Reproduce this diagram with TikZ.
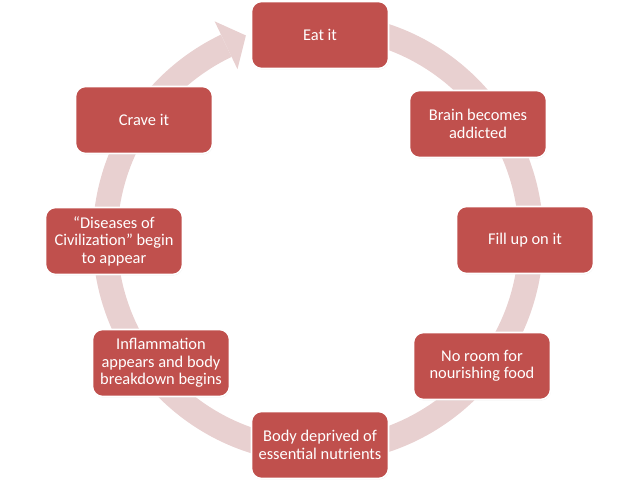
\documentclass[tikz,border=0pt]{standalone}
\usepackage{fontspec}
\setmainfont{Carlito}
\usepackage{xcolor}
\usetikzlibrary{calc,shadows}
\definecolor{boxred}{RGB}{192,80,77}
\definecolor{ringpink}{RGB}{232,208,208}
\tikzset{
  stagebox/.style={rectangle, rounded corners=0.3cm, fill=boxred, draw=white, line width=1.4pt,
    minimum width=4.11cm, minimum height=2.01cm, align=center, text=white,
    font=\fontsize{14}{15}\selectfont,
    drop shadow={opacity=0.2, shadow xshift=0.4pt, shadow yshift=-0.8pt}},
  ring/.style={ringpink, line width=0.74cm}
}
\begin{document}
\begin{tikzpicture}[x=0.03cm,y=0.03cm]
\useasboundingbox (0,0) rectangle (640,480);
\coordinate (ctr) at (318,242);
%\draw[red] (ctr) circle[radius=6.39cm];
% the circular arrow behind the stages
\draw[ring] ($(ctr)+(85:213)$) arc[start angle=85, end angle=-244.5, radius=6.39cm];
\fill[ringpink] ($(ctr)+(115.5:240)$) -- ($(ctr)+(109.6:215)$) -- ($(ctr)+(115.5:187)$) -- cycle;
% stages, clockwise from the top
\node[stagebox] (eat)      at (320,445) {Eat it};
\node[stagebox] (brain)    at (478,356) {Brain becomes\\addicted};
\node[stagebox] (fill)     at (525,240) {Fill up on it};
\node[stagebox] (noroom)   at (482,114) {No room for\\nourishing food};
\node[stagebox] (body)     at (320,35)  {Body deprived of\\essential nutrients};
\node[stagebox] (inflam)   at (161,117) {Inflammation\\appears and body\\breakdown begins};
\node[stagebox] (diseases) at (114,239) {“Diseases of\\Civilization” begin\\to appear};
\node[stagebox] (crave)    at (144,360) {Crave it};
\end{tikzpicture}
\end{document}
